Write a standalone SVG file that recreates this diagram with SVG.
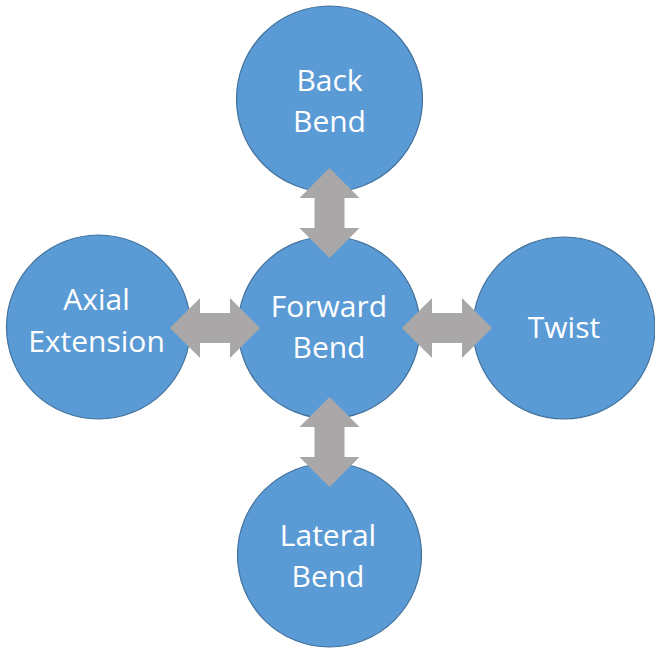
<svg xmlns="http://www.w3.org/2000/svg" width="655" height="648" viewBox="0 0 655 648">
<style>
.node{fill:#5B9BD5;stroke:#41719C;stroke-width:1.2}
.lbl{font-family:"Open Sans","Liberation Sans",sans-serif;font-size:30px;fill:#FFFFFF;text-anchor:middle}
.arr{fill:#A9A7A7;stroke:none}
</style>
<rect width="655" height="648" fill="#FFFFFF"/>
<g id="back-bend"><circle class="node" cx="329.5" cy="99" r="93"/><text class="lbl" x="329.5" y="91">Back</text><text class="lbl" x="329.5" y="132">Bend</text></g>
<g id="forward-bend"><circle class="node" cx="329" cy="327.5" r="91"/><text class="lbl" x="329" y="317">Forward</text><text class="lbl" x="329" y="358">Bend</text></g>
<g id="axial-extension"><circle class="node" cx="98.5" cy="327" r="92"/><text class="lbl" x="96.5" y="310">Axial</text><text class="lbl" x="96.5" y="352">Extension</text></g>
<g id="twist"><circle class="node" cx="564" cy="328" r="91"/><text class="lbl" x="564" y="338">Twist</text></g>
<g id="lateral-bend"><circle class="node" cx="329.5" cy="555" r="92"/><text class="lbl" x="328" y="546">Lateral</text><text class="lbl" x="328" y="587">Bend</text></g>
<g id="connectors">
<polygon class="arr" points="170,328 200,298 200,313 230,313 230,298 260,328 230,358 230,343 200,343 200,358"/>
<polygon class="arr" points="402,328 432,298 432,313 462,313 462,298 492,328 462,358 462,343 432,343 432,358"/>
<polygon class="arr" points="329.5,168 359.5,198 344.5,198 344.5,228 359.5,228 329.5,258 299.5,228 314.5,228 314.5,198 299.5,198"/>
<polygon class="arr" points="329.5,397 359.5,427 344.5,427 344.5,457 359.5,457 329.5,487 299.5,457 314.5,457 314.5,427 299.5,427"/>
</g>
</svg>
